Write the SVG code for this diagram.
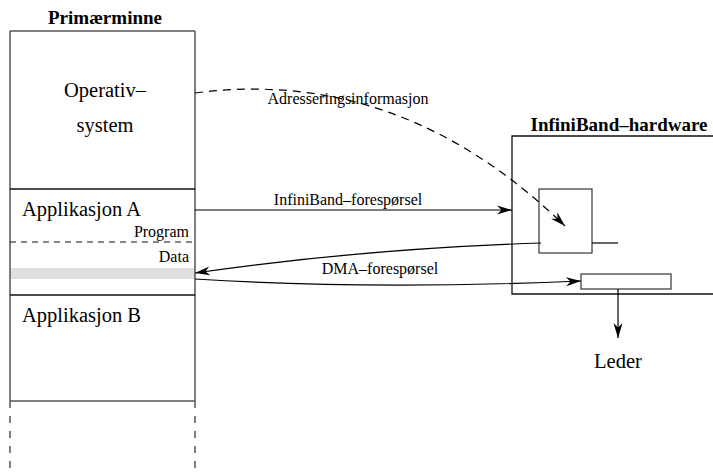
<svg xmlns="http://www.w3.org/2000/svg" width="713" height="476" viewBox="0 0 713 476">
  <style>
    text { font-family: "Liberation Serif", "Times New Roman", serif; fill: #000; }
    .title { font-weight: bold; font-size: 19px; }
    .big { font-size: 20.5px; }
    .small { font-size: 16px; }
    .frame { fill: none; stroke: #555; stroke-width: 1.5; }
    .sep { fill: none; stroke: #111; stroke-width: 1.3; }
    .wire { fill: none; stroke: #000; stroke-width: 1.2; }
    .dash { stroke-dasharray: 8 6; }
  </style>
  <defs>
    <marker id="arrow" markerUnits="userSpaceOnUse" markerWidth="18" markerHeight="12" viewBox="-16 -6 18 12" refX="0" refY="0" orient="auto">
      <path d="M0,0 L-15,-4.5 L-10.5,0 L-15,4.5 Z" fill="#000"/>
    </marker>
  </defs>

  <!-- main memory column -->
  <g id="primaerminne">
    <text class="title" x="105" y="24" text-anchor="middle">Primærminne</text>
    <rect x="10" y="268" width="185" height="11" fill="#dde0dd"/>
    <path class="frame" d="M10,31 H195 M10,31 V401 M195,31 V401 M10,401 H195"/>
    <path class="frame" d="M10,401 V476 M195,401 V476" stroke-dasharray="7 8"/>
  </g>

  <g id="operativsystem">
    <text class="big" x="105" y="97" text-anchor="middle">Operativ–</text>
    <text class="big" x="105" y="132" text-anchor="middle">system</text>
  </g>

  <g id="applikasjon-a">
    <path class="sep" d="M10,189 H195"/>
    <text class="big" x="22" y="216">Applikasjon A</text>
    <text class="small" x="189" y="237" text-anchor="end">Program</text>
    <path d="M10,242 H195" stroke="#111" stroke-width="1.2" stroke-dasharray="6 5"/>
    <text class="small" x="189" y="262" text-anchor="end">Data</text>
  </g>

  <g id="applikasjon-b">
    <path class="sep" d="M10,295 H195"/>
    <text class="big" x="22" y="322">Applikasjon B</text>
  </g>

  <!-- adapter hardware -->
  <g id="infiniband-hardware">
    <text class="title" x="619" y="131" text-anchor="middle">InfiniBand–hardware</text>
    <path class="sep" d="M713,136 H512 V294 H713"/>
  </g>

  <g id="ko">
    <rect x="539" y="189" width="53" height="64" fill="none" stroke="#444" stroke-width="1.3"/>
    <path class="wire" d="M592,243 H618"/>
  </g>

  <g id="dma-enhet">
    <rect x="581" y="274" width="90" height="15" fill="none" stroke="#444" stroke-width="1.3"/>
  </g>

  <g id="leder">
    <text class="big" x="618" y="368" text-anchor="middle">Leder</text>
  </g>

  <!-- connectors -->
  <g id="connectors">
    <path class="wire dash" d="M195,93 Q400,66 565,226" marker-end="url(#arrow)"/>
    <path class="wire" d="M195,210 H512" marker-end="url(#arrow)"/>
    <path class="wire" d="M541,243 Q360,249 195,273" marker-end="url(#arrow)"/>
    <path class="wire" d="M195,279 Q370,290 581,281" marker-end="url(#arrow)"/>
    <path class="wire" d="M618,289 V338" marker-end="url(#arrow)"/>
    <text class="small" x="348" y="104" text-anchor="middle">Adresseringsinformasjon</text>
    <text class="small" x="348" y="205" text-anchor="middle">InfiniBand–forespørsel</text>
    <text class="small" x="380" y="274" text-anchor="middle">DMA–forespørsel</text>
  </g>
</svg>
